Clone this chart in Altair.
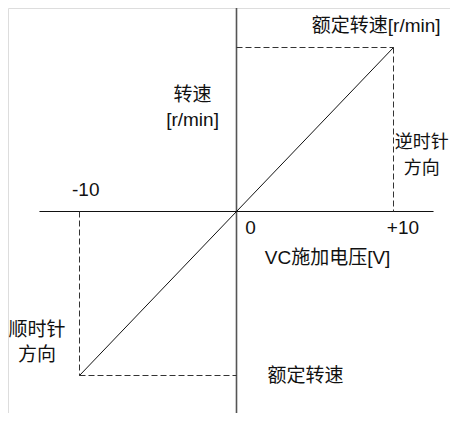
import altair as alt
import pandas as pd

# Data (normalized: rated speed = 1, voltage in V)
volt = [-10, 10]
speed = [-1, 1]

# dashed guide segments: x, y, x2, y2
guide_x = [-10, -10, 0, 10]
guide_y = [0, -1, 1, 1]
guide_x2 = [-10, 0, 10, 10]
guide_y2 = [-1, -1, 1, 0]

# axes extents
haxis_x = [-12.55, 12.55]
vaxis_y = [1.28, -1.3]

# annotations (text, x, y) in data units
label_text = ["额定转速[r/min]", "转速", "[r/min]", "-10", "0", "+10",
              "VC施加电压[V]", "顺时针", "方向", "额定转速"]
label_x = [8.9, -2.8, -2.8, -9.6, 0.9, 10.6, 5.8, -12.7, -12.7, 4.4]
label_y = [1.13, 0.71, 0.555, 0.13, -0.1, -0.1, -0.285, -0.725, -0.877, -1.0]

side_text = ["逆时针", "方向"]
side_x = [11.8, 11.8]
side_y = [0.42, 0.26]

PX = 15.7
PY = 164.0
W, H = 442, 405
X0 = 228.5
Y0 = 203.5
x_dom = [-X0 / PX, (W - X0) / PX]
y_dom = [-(H - Y0) / PY, Y0 / PY]

xs = alt.Scale(domain=x_dom, nice=False, zero=False)
ys = alt.Scale(domain=y_dom, nice=False, zero=False)

FONT = "Liberation Sans, Arial, Noto Sans CJK SC"

line_df = pd.DataFrame({"v": volt, "s": speed})
guide_df = pd.DataFrame({"x": guide_x, "y": guide_y, "x2": guide_x2, "y2": guide_y2})
hax_df = pd.DataFrame({"x": [haxis_x[0]], "x2": [haxis_x[1]], "y": [0]})
vax_df = pd.DataFrame({"x": [0], "y": [vaxis_y[0]], "y2": [vaxis_y[1]]})
lab_df = pd.DataFrame({"t": label_text, "x": label_x, "y": label_y})
side_df = pd.DataFrame({"t": side_text, "x": side_x, "y": side_y})

hax = alt.Chart(hax_df).mark_rule(color="#111111", strokeWidth=1).encode(
    x=alt.X("x:Q", scale=xs, axis=None), x2="x2:Q", y=alt.Y("y:Q", scale=ys, axis=None)
)
vax = alt.Chart(vax_df).mark_rule(color="#555555", strokeWidth=1.6).encode(
    x=alt.X("x:Q", scale=xs, axis=None), y=alt.Y("y:Q", scale=ys, axis=None), y2="y2:Q"
)
guides = alt.Chart(guide_df).mark_rule(color="#333333", strokeWidth=1, strokeDash=[6, 3]).encode(
    x=alt.X("x:Q", scale=xs, axis=None), y=alt.Y("y:Q", scale=ys, axis=None),
    x2="x2:Q", y2="y2:Q"
)
line = alt.Chart(line_df).mark_line(color="#111111", strokeWidth=1).encode(
    x=alt.X("v:Q", scale=xs, axis=None), y=alt.Y("s:Q", scale=ys, axis=None)
)
labels = alt.Chart(lab_df).mark_text(
    font=FONT, fontSize=19, color="#111111", align="center", baseline="middle"
).encode(
    x=alt.X("x:Q", scale=xs, axis=None), y=alt.Y("y:Q", scale=ys, axis=None), text="t:N"
)
side = alt.Chart(side_df).mark_text(
    font=FONT, fontSize=18, color="#111111", align="center", baseline="middle"
).encode(
    x=alt.X("x:Q", scale=xs, axis=None), y=alt.Y("y:Q", scale=ys, axis=None), text="t:N"
)

chart = alt.layer(vax, hax, guides, line, labels, side).properties(
    width=W, height=H, padding=0, autosize=alt.AutoSizeParams(type="none")
).configure_view(stroke=None).configure(background="white")

chart.save("out.html", embed_options={"renderer": "svg", "actions": False})
